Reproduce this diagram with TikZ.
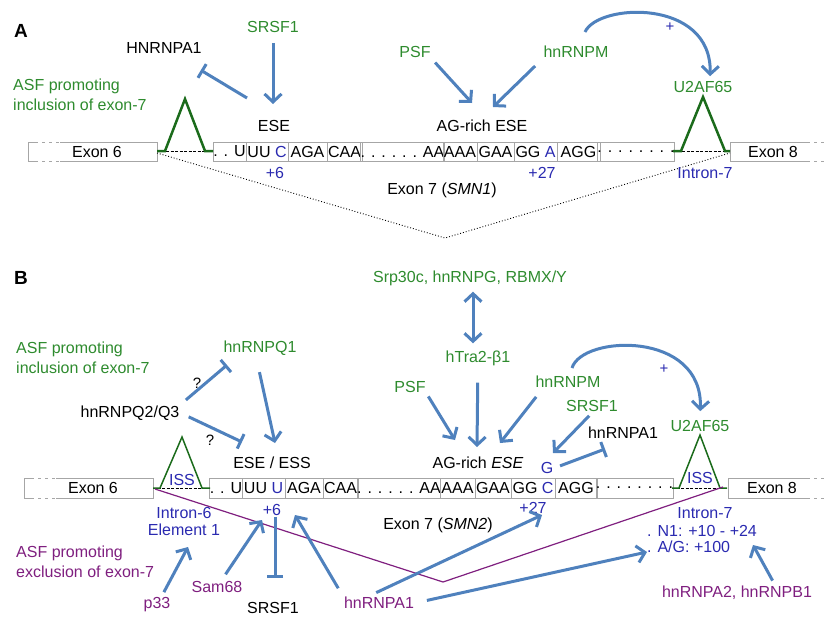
\documentclass[tikz,border=0pt]{standalone}
\usepackage{fontspec}
\setmainfont{Liberation Sans}
\usetikzlibrary{arrows.meta}
\definecolor{arrblue}{HTML}{4F81BD}
\definecolor{sgreen}{HTML}{2E8B2E}
\definecolor{trigreen}{HTML}{1B6B1B}
\definecolor{nblue}{HTML}{2A2AB0}
\definecolor{ppurple}{HTML}{7F1F7F}
\definecolor{cellgray}{HTML}{A6A6A6}

\begin{document}
\begin{tikzpicture}[x=1pt, y=-1pt,
  lbl/.style={font=\fontsize{16}{18}\selectfont, inner sep=1pt, text=black},
  grn/.style={lbl, text=sgreen},
  blu/.style={lbl, text=nblue},
  pur/.style={lbl, text=ppurple},
  small/.style={font=\fontsize{15}{16}\selectfont},
  twoline/.style={align=left, anchor=west, font=\fontsize{16}{20}\selectfont},
  panel/.style={font=\bfseries\fontsize{19}{20}\selectfont, inner sep=0pt},
  cell/.style={draw=cellgray, line width=0.8pt, inner sep=0pt, font=\fontsize{16}{18}\selectfont},
  boxline/.style={draw=cellgray, line width=0.8pt},
  gap/.style={white, line width=1.8pt, dash pattern=on 4pt off 3pt},
  act/.style={-{Straight Barb[length=8pt,width=17pt]}, line width=3pt, arrblue},
  dbl/.style={{Straight Barb[length=8pt,width=17pt]}-{Straight Barb[length=8pt,width=17pt]}, line width=3pt, arrblue},
  inh/.style={-{Bar[width=16pt]}, line width=3pt, arrblue},
  tri/.style={trigreen, line width=2.5pt},
  intr/.style={black, line width=0.9pt, dash pattern=on 3pt off 1.5pt},
]
\useasboundingbox (0,0) rectangle (827,618);

% ---------------- panel A ----------------
\node[panel] (pA) at (21,31) {A};

% exon boxes
\draw[boxline] (28,142) rectangle (157,161);
\draw[gap] (38,142) -- (60,142) (38,161) -- (60,161);
\node[lbl] (ex6A) at (97,151.5) {Exon 6};
\draw[boxline] (829,142) -- (730,142) -- (730,161) -- (829,161);
\draw[gap] (810,142) -- (829,142) (810,161) -- (829,161);
\node[lbl] (ex8A) at (773,151.5) {Exon 8};

% exon 7 sequence
\foreach \xa/\xb/\txt [count=\i] in {213/246/{. . U}, 246/288/{UU \textcolor{nblue}{C}},
    288/327/{AGA}, 327/362/{CAA}, 362/443/{. . . . . . AA}, 443/477/{AAA},
    477/514/{GAA}, 514/557/{GG \textcolor{nblue}{A}}, 557/600/{AGG}, 600/672/{. . . . . . . .}}
  \node[cell, minimum width={(\xb-\xa)*1pt}, minimum height=19pt] (sa\i) at ({(\xa+\xb)/2},151.5) {\txt};

% introns
\draw[intr] (157,151) -- (213,151);
\draw[tri] (157,151) -- (165,151) -- (185,99) -- (205,151) -- (213,151);
\draw[intr] (673,151) -- (730,151);
\draw[tri] (673,151) -- (681,151) -- (703,97) -- (725,151) -- (730,151);

% skipping path
\coordinate (spA) at (445,238);
\draw[black, line width=0.9pt, dotted] (157,153) -- (spA) -- (730,153);

% labels
\node[lbl] (hnA) at (164,48) {HNRNPA1};
\node[grn] (srsfA) at (273,27) {SRSF1};
\node[grn, twoline] (asfA) at (12,95) {ASF promoting\\inclusion of exon-7};
\node[lbl] (eseA) at (274,126) {ESE};
\node[grn] (psfA) at (415,52) {PSF};
\node[grn] (hnmA) at (576,52) {hnRNPM};
\node[lbl] (agA) at (482,126) {AG-rich ESE};
\node[grn] (u2A) at (703,87) {U2AF65};
\node[blu, small] (plusA) at (670,27) {+};
\node[blu] (p6A) at (275,173) {+6};
\node[blu] (p27A) at (542,173) {+27};
\node[lbl] (ex7A) at (442,190) {Exon 7 (\textit{SMN1})};
\node[blu] (in7A) at (705,173) {Intron-7};

% connectors
\coordinate (aEseL) at (247,98);
\coordinate (aEseT) at (273,104);
\coordinate (aAgL) at (472,103);
\coordinate (aAgR) at (493,107);
\draw[inh, shorten >=30pt] (aEseL) -- (hnA);
\draw[act, shorten <=9pt] (srsfA) -- (aEseT);
\draw[act, shorten <=5pt] (psfA.south east) -- (aAgL);
\draw[act, shorten <=10pt] (hnmA.south west) -- (aAgR);
\draw[act, shorten >=4pt] ([xshift=9pt, yshift=13pt]hnmA.north)
  .. controls (598,3) and (712,-2) .. ([xshift=7pt]u2A.north);

% ---------------- panel B ----------------
\node[panel] (pB) at (21,278) {B};

% exon boxes
\draw[boxline] (24,478) rectangle (153,498);
\draw[gap] (34,478) -- (56,478) (34,498) -- (56,498);
\node[lbl] (ex6B) at (93,488) {Exon 6};
\draw[boxline] (829,478) -- (728,478) -- (728,498) -- (829,498);
\draw[gap] (810,478) -- (829,478) (810,498) -- (829,498);
\node[lbl] (ex8B) at (772,488) {Exon 8};

% exon 7 sequence
\foreach \xa/\xb/\txt [count=\i] in {210/242/{. . U}, 242/285/{UU \textcolor{nblue}{U}},
    285/323/{AGA}, 323/358/{CAA}, 358/440/{. . . . . . AA}, 440/475/{AAA},
    475/511/{GAA}, 511/555/{GG \textcolor{nblue}{C}}, 555/597/{AGG}, 597/672/{. . . . . . . .}}
  \node[cell, minimum width={(\xb-\xa)*1pt}, minimum height=20pt] (sb\i) at ({(\xa+\xb)/2},488) {\txt};

% introns
\draw[intr] (153,488) -- (210,488);
\draw[trigreen, line width=1.5pt] (153,488) -- (160,488) -- (182,437) -- (202,488) -- (210,488);
\draw[intr] (672,488) -- (727,488);
\draw[trigreen, line width=1.5pt] (672,488) -- (679,488) -- (700,435) -- (720,488) -- (727,488);

% skipping path
\coordinate (spB) at (443,582);
\draw[ppurple, line width=1.2pt] (155,489) -- (spB) -- (723,487);

% labels
\node[grn] (srp) at (470,278) {Srp30c, hnRNPG, RBMX/Y};
\node[grn] (htra) at (478,358) {hTra2-β1};
\node[grn, twoline] (asfB) at (15,358) {ASF promoting\\inclusion of exon-7};
\node[grn] (q1) at (260,348) {hnRNPQ1};
\node[lbl] (q23) at (130,413) {hnRNPQ2/Q3};
\node[lbl, small] (qm1) at (197,383) {?};
\node[lbl, small] (qm2) at (210,440) {?};
\node[lbl] (essB) at (272,463) {ESE / ESS};
\node[grn] (psfB) at (410,387) {PSF};
\node[grn] (hnmB) at (568,382) {hnRNPM};
\node[lbl] (agB) at (478,463) {AG-rich \textit{ESE}};
\node[grn] (srsfB) at (592,406) {SRSF1};
\node[lbl] (a1Bk) at (623,433) {hnRNPA1};
\node[blu] (gB) at (547,468) {G};
\node[grn] (u2B) at (700,426) {U2AF65};
\node[blu, small] (plusB) at (664,369) {+};
\node[blu] (iss1) at (182,480) {ISS};
\node[blu] (iss2) at (700,478) {ISS};
\node[blu, align=center, font=\fontsize{16}{17}\selectfont] (in6) at (184,521) {Intron-6\\Element 1};
\node[blu] (p6B) at (272,510) {+6};
\node[lbl] (ex7B) at (438,525) {Exon 7 (\textit{SMN2})};
\node[blu] (p27B) at (533,508) {+27};
\node[blu] (in7B) at (705,513) {Intron-7};
\node[blu, anchor=west] (n1) at (646,531) {. N1: +10 - +24};
\node[blu, anchor=west] (agS) at (646,547) {. A/G: +100};
\node[pur, twoline] (asfX) at (15,562) {ASF promoting\\exclusion of exon-7};
\node[pur] (p33) at (157,605) {p33};
\node[pur] (sam) at (217,587) {Sam68};
\node[lbl] (srsfBk) at (273,608) {SRSF1};
\node[pur] (a1B) at (379,603) {hnRNPA1};
\node[pur] (a2b1) at (737,593) {hnRNPA2, hnRNPB1};

% connectors
\coordinate (bQ1bar) at (227,365);
\coordinate (bEssBar) at (242,442);
\coordinate (bEseTip) at (275,443);
\coordinate (bAgL) at (455,440);
\coordinate (bAgM) at (477,447);
\coordinate (bAgR) at (500,443);
\coordinate (bGtip) at (553,453);
\coordinate (bA1bar) at (605,449);
\coordinate (bElTip) at (188,547);
\coordinate (bSamTip) at (262,520);
\coordinate (bP6tip) at (295,515);
\coordinate (bP27tip) at (542,515);
\coordinate (bAgSTip) at (647,552);
\coordinate (bN1tip) at (753,545);

\draw[dbl, shorten <=5pt, shorten >=6pt] ([xshift=3pt]srp.south) -- ([xshift=3pt]srp.south |- htra.north);
\draw[inh, shorten <=7pt] (q23.north east) -- (bQ1bar);
\draw[inh, shorten <=9pt] (q23.east) -- (bEssBar);
\draw[act, shorten <=16pt] ([xshift=-4pt]q1.south) -- (bEseTip);
\draw[act, shorten <=3pt] (psfB.south east) -- (bAgL);
\draw[act, shorten <=16pt] (htra) -- (bAgM);
\draw[act, shorten <=10pt] ([xshift=8pt]hnmB.south west) -- (bAgR);
\draw[act, shorten <=4pt] (srsfB.south) -- (bGtip);
\draw[inh, shorten <=6pt] (gB.east) -- (bA1bar);
\draw[act, shorten >=8pt] ([xshift=4pt, yshift=7pt]hnmB.north)
  .. controls (582,335) and (703,330) .. (u2B.north);
\draw[act, shorten <=5pt] (p33) -- (bElTip);
\draw[act, shorten <=7pt] (sam) -- (bSamTip);
\draw[inh, shorten >=23pt] ([xshift=3pt]p6B.south) -- ([xshift=2pt]srsfBk.north);
\draw[act, shorten <=9pt] (a1B.north west) -- (bP6tip);
\draw[act, shorten <=8pt] ([xshift=-10pt]a1B.north) -- (bP27tip);
\draw[act, shorten <=12pt] (a1B.east) -- (bAgSTip);
\draw[act, shorten <=5pt] ([xshift=38pt]a2b1.north) -- (bN1tip);

\end{tikzpicture}
\end{document}
